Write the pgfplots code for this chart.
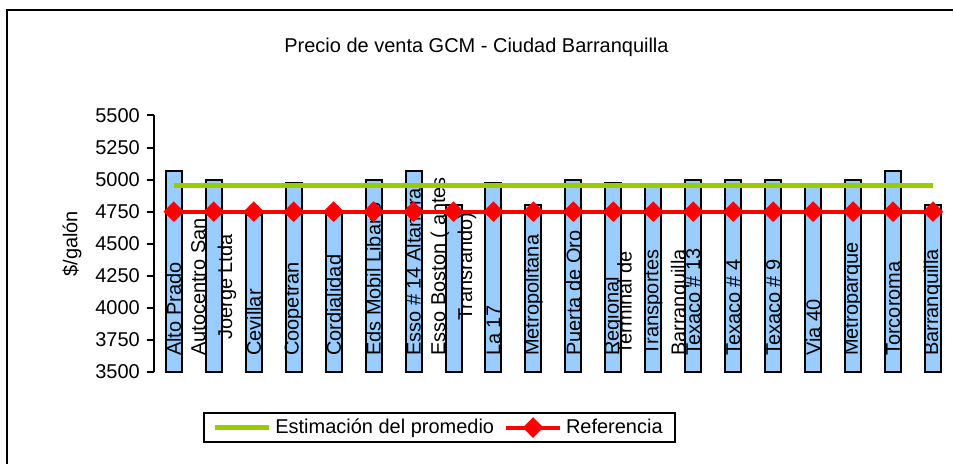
\documentclass[border=0pt]{standalone}
\usepackage{fontspec}
\setmainfont{Liberation Sans}
\usepackage{pgfplots}
\pgfplotsset{compat=1.18}
\definecolor{barblue}{HTML}{99CCFF}
\definecolor{lgreen}{HTML}{99CC00}
\begin{document}
\begin{tikzpicture}
\path (-77pt,-45.85pt) rectangle (400pt,186.15pt);
\draw[line width=1pt] (-73.35pt,-45.85pt) -- (-73.35pt,181.15pt) -- (400pt,181.15pt);
\begin{axis}[
  at={(0,0)}, anchor=south west, scale only axis,
  width=400pt, height=128.35pt,
  set layers,
  xmin=0.5, xmax=20.5, ymin=3500, ymax=5500,
  ytick={3500,3750,...,5500},
  xtick={1,...,20},
  xticklabels={{Alto Prado},{Autocentro San\\Joerge Ltda},{Cevillar},{Coopetran},{Cordialidad},{Eds Mobil Libano},{Esso \# 14 Altamira},{Esso Boston ( antes\\Transrando)},{La 17},{Metropolitana},{Puerta de Oro},{Regional},{Terminal de\\Transportes\\Barranquilla},{Texaco \# 13},{Texaco \# 4},{Texaco \# 9},{Via 40},{Metroparque},{Torcoroma},{Barranquilla}},
  axis y line*=left, axis x line*=bottom,
  x axis line style={draw=none},
  y axis line style={line width=1pt, black},
  xtick style={draw=none},
  ytick style={line width=1pt, black},
  tick align=outside, major tick length=3.5pt,
  /pgf/number format/assume math mode=true,
  /pgf/number format/1000 sep={},
  yticklabel style={font=\fontsize{10}{12}\selectfont},
  xticklabel shift=-8pt,
  xticklabel style={rotate=90, anchor=west, align=center, font=\fontsize{10}{13.5}\selectfont},
  ylabel={\$/galón},
  ylabel style={at={(axis description cs:-0.1025,0.5)}, anchor=center, font=\fontsize{10}{12}\selectfont},
  title={Precio de venta GCM - Ciudad Barranquilla},
  every axis title shift=0pt,
  title style={at={(axis description cs:0.40375,1.2672)}, anchor=center, font=\fontsize{10}{12}\selectfont},
  legend columns=2,
  legend style={at={(axis description cs:0.3575,-0.217)}, anchor=center, draw=black, line width=1pt, font=\fontsize{10}{12}\selectfont, inner xsep=4pt, inner ysep=1pt,
    /tikz/every even column/.append style={column sep=3pt}},
  legend image code/.code={\draw[mark repeat=2,mark phase=2,#1] plot coordinates {(0pt,0pt) (13.5pt,0pt) (27pt,0pt)};},
]
\addplot[ybar, bar width=8pt, fill=barblue, draw=black, line width=1pt, forget plot, on layer=axis background] coordinates {
(1,5070) (2,5000) (3,4725) (4,4970) (5,4750) (6,5000) (7,5070) (8,4800) (9,4970) (10,4800)
(11,5000) (12,4970) (13,4950) (14,5000) (15,5000) (16,5000) (17,4950) (18,5000) (19,5070) (20,4800)};
\addplot[lgreen, line width=2.5pt, no markers] coordinates {
(1,4950) (2,4950) (3,4950) (4,4950) (5,4950) (6,4950) (7,4950) (8,4950) (9,4950) (10,4950)
(11,4950) (12,4950) (13,4950) (14,4950) (15,4950) (16,4950) (17,4950) (18,4950) (19,4950) (20,4950)};
\addlegendentry{Estimación del promedio}
\addplot[red, line width=2pt, mark=square*, mark size=2.65pt, mark options={rotate=45, solid, fill=red}] coordinates {
(1,4750) (2,4750) (3,4750) (4,4750) (5,4750) (6,4750) (7,4750) (8,4750) (9,4750) (10,4750)
(11,4750) (12,4750) (13,4750) (14,4750) (15,4750) (16,4750) (17,4750) (18,4750) (19,4750) (20,4750)};
\addlegendentry{Referencia}
\end{axis}
\end{tikzpicture}
\end{document}
